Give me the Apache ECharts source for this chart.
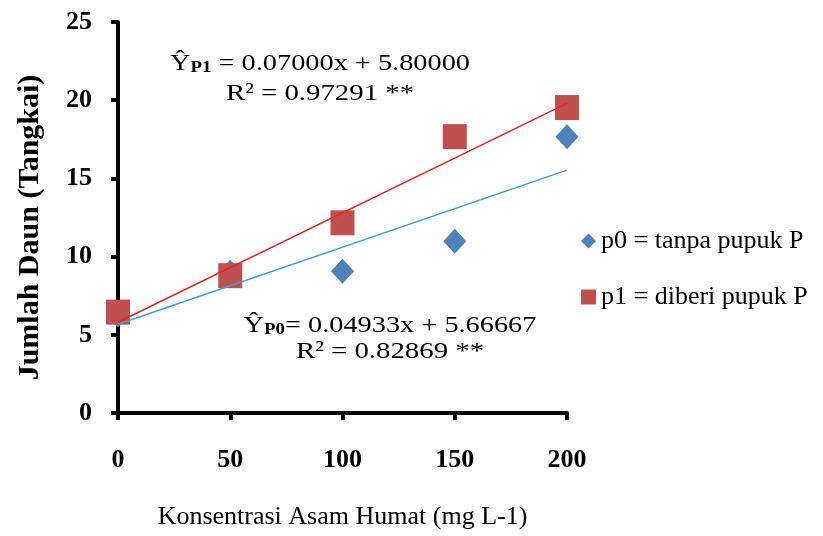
<!DOCTYPE html>
<html>
<head>
<meta charset="utf-8">
<script src="https://cdn.jsdelivr.net/npm/echarts@6/dist/echarts.min.js"></script>
<style>
html,body{margin:0;padding:0;background:#fff;}
#chart{width:823px;height:536px;}
</style>
</head>
<body>
<div id="chart"></div>
<script>
// ---- data ----
const xValues = [0, 50, 100, 150, 200];
const p0Values = [6.27, 9.0, 9.06, 10.98, 17.67];
const p1Values = [6.45, 8.78, 12.16, 17.67, 19.53];
const trendX = [0, 200];
const p0Trend = [5.67, 15.53];
const p1Trend = [5.80, 19.80];
const seriesNames = ['p0 = tanpa pupuk P', 'p1 = diberi pupuk P'];
const eqP1 = ['{y|Ŷ}{s|P1} = 0.07000x + 5.80000', 'R² = 0.97291 **'];
const eqP0 = ['{y|Ŷ}{s|P0}= 0.04933x + 5.66667', 'R² = 0.82869 **'];
const xName = 'Konsentrasi Asam Humat (mg L-1)';
const yName = 'Jumlah Daun (Tangkai)';

const serif = '"Liberation Serif", "Times New Roman", serif';
const pairs = (xs, ys) => xs.map((x, i) => [x, ys[i]]);

const chart = echarts.init(document.getElementById('chart'), null, {renderer: 'canvas'});

function eqText(lines, cx, cy1, cy2) {
  return [
    {
      type: 'text', x: cx, y: cy1, z: 100, scaleX: 1.18,
      style: {
        text: lines[0], fill: '#000', font: '24px ' + serif,
        textAlign: 'center', textVerticalAlign: 'middle', align: 'center', verticalAlign: 'middle',
        rich: {
          y: {fontSize: 24, fontFamily: serif, fill: '#000'},
          s: {fontSize: 16, fontWeight: 'bold', fontFamily: serif, fill: '#000', verticalAlign: 'bottom', padding: [8, 0, 0, 0]}
        }
      }
    },
    {
      type: 'text', x: cx, y: cy2, z: 100, scaleX: 1.2,
      style: {
        text: lines[1], fill: '#000', font: '24px ' + serif,
        textAlign: 'center', textVerticalAlign: 'middle', align: 'center', verticalAlign: 'middle'
      }
    }
  ];
}

const option = {
  backgroundColor: '#fff',
  animation: false,
  grid: {left: 118, right: 256, top: 22, bottom: 123, containLabel: false},
  legend: {
    orient: 'vertical',
    left: 576, top: 223,
    itemGap: 30,
    itemWidth: 15, itemHeight: 15,
    textStyle: {fontFamily: serif, fontSize: 26, color: '#000'},
    data: [
      {name: seriesNames[0], icon: 'diamond', itemStyle: {color: '#4F81BD'}},
      {name: seriesNames[1], icon: 'rect', itemStyle: {color: '#C0504D'}}
    ]
  },
  xAxis: {
    type: 'value', min: 0, max: 200, interval: 50,
    name: xName, nameLocation: 'middle', nameGap: 91,
    nameTextStyle: {fontFamily: serif, fontSize: 26, color: '#000'},
    axisLine: {show: true, onZero: false, lineStyle: {color: '#000', width: 4}},
    axisTick: {show: true, length: 7, lineStyle: {color: '#000', width: 4}},
    axisLabel: {margin: 34, fontFamily: serif, fontSize: 26, fontWeight: 'bold', color: '#000'},
    splitLine: {show: false}
  },
  yAxis: {
    type: 'value', min: 0, max: 25, interval: 5,
    name: yName, nameLocation: 'middle', nameGap: 73, nameRotate: 90,
    nameTextStyle: {fontFamily: serif, fontSize: 30, fontWeight: 'bold', color: '#000', padding: [0, 20, 0, 0]},
    axisLine: {show: true, onZero: false, lineStyle: {color: '#000', width: 4}},
    axisTick: {show: true, length: 7, lineStyle: {color: '#000', width: 4}},
    axisLabel: {margin: 26, fontFamily: serif, fontSize: 26, fontWeight: 'bold', color: '#000'},
    splitLine: {show: false}
  },
  series: [
    {
      name: seriesNames[0], type: 'scatter', symbol: 'diamond', symbolSize: [23, 25],
      itemStyle: {color: '#4F81BD', opacity: 1}, z: 2,
      data: pairs(xValues, p0Values)
    },
    {
      name: seriesNames[1], type: 'scatter', symbol: 'rect', symbolSize: [24, 25],
      itemStyle: {color: '#C0504D', opacity: 1}, z: 3,
      data: pairs(xValues, p1Values)
    },
    {
      name: 'trend p0', type: 'line', showSymbol: false, symbol: 'none', z: 4,
      lineStyle: {color: '#3F9FD8', width: 1.5}, silent: true,
      data: pairs(trendX, p0Trend)
    },
    {
      name: 'trend p1', type: 'line', showSymbol: false, symbol: 'none', z: 5,
      lineStyle: {color: '#E2252B', width: 1.5}, silent: true,
      data: pairs(trendX, p1Trend)
    }
  ],
  graphic: [].concat(eqText(eqP1, 320, 64, 94), eqText(eqP0, 390, 326, 352))
};
chart.setOption(option);
</script>
</body>
</html>
